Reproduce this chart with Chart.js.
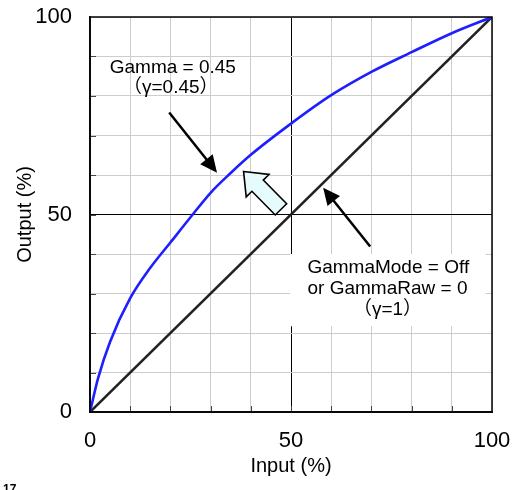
<!DOCTYPE html>
<html>
<head>
<meta charset="utf-8">
<script src="https://cdn.jsdelivr.net/npm/chart.js@4"></script>
<style>
  html, body { margin: 0; padding: 0; background: #fff; }
  #wrap { width: 525px; height: 490px; position: relative; }
</style>
</head>
<body>
<div id="wrap"><canvas id="gammaChart"></canvas></div>
<script>
// values
const inputPct = [0, 2, 5, 10, 15, 20, 25, 30, 35, 40, 50, 60, 70, 80, 90, 100];
const gammaOut = [0, 8.5, 17.8, 28.8, 36.5, 42.9, 49.3, 55.5, 60.5, 65.1, 73, 80.2, 86.1, 91.1, 95.9, 100];
const linearIn = [0, 100];
const linearOut = [0, 100];
const tickLabels = [0, 50, 100];

const FONT = "'Liberation Sans', 'Noto Sans CJK JP', sans-serif";

// annotation text
const gammaLabel = ["Gamma = 0.45", "（γ=0.45）"];
const offLabel = ["GammaMode = Off", "or GammaRaw = 0", "（γ=1）"];

function arrow(ctx, x1, y1, x2, y2) {
  const a = Math.atan2(y2 - y1, x2 - x1);
  const len = 17, hw = 8;
  ctx.beginPath();
  ctx.moveTo(x1, y1);
  ctx.lineTo(x2 - Math.cos(a) * len * 0.8, y2 - Math.sin(a) * len * 0.8);
  ctx.stroke();
  ctx.beginPath();
  ctx.moveTo(x2, y2);
  ctx.lineTo(x2 - Math.cos(a) * len - Math.sin(a) * hw, y2 - Math.sin(a) * len + Math.cos(a) * hw);
  ctx.lineTo(x2 - Math.cos(a) * len + Math.sin(a) * hw, y2 - Math.sin(a) * len - Math.cos(a) * hw);
  ctx.closePath();
  ctx.fill();
}

function bigArrow(ctx, tx, ty, ex, ey) {
  // fat hollow arrow from tail (ex,ey) to tip (tx,ty)
  const a = Math.atan2(ty - ey, tx - ex);
  const L = Math.hypot(tx - ex, ty - ey);
  const head = 20, hw = 16, sw = 8;
  const pts = [[L, 0], [L - head, hw], [L - head, sw], [0, sw], [0, -sw], [L - head, -sw], [L - head, -hw]];
  ctx.beginPath();
  pts.forEach(function (p, i) {
    const px = ex + p[0] * Math.cos(a) - p[1] * Math.sin(a);
    const py = ey + p[0] * Math.sin(a) + p[1] * Math.cos(a);
    if (i === 0) ctx.moveTo(px, py); else ctx.lineTo(px, py);
  });
  ctx.closePath();
  ctx.fillStyle = "#e6fbfb";
  ctx.fill();
  ctx.lineWidth = 1.6;
  ctx.strokeStyle = "#000";
  ctx.stroke();
}

const notes = {
  id: "notes",
  beforeDatasetsDraw(chart) {
    const { ctx, scales: { x, y } } = chart;
    ctx.save();
    ctx.fillStyle = "#fff";
    const l = x.getPixelForValue(49.8), r = x.getPixelForValue(98.4);
    const t = y.getPixelForValue(40), b = y.getPixelForValue(21.7);
    ctx.fillRect(l, t, r - l, b - t);
    ctx.restore();
  },
  afterDraw(chart) {
    const { ctx, chartArea: ca, scales: { x, y } } = chart;
    ctx.save();
    // inner tick marks
    ctx.strokeStyle = "#444";
    ctx.lineWidth = 1;
    for (let v = 10; v < 100; v += 10) {
      const px = Math.round(x.getPixelForValue(v)) + 0.5;
      ctx.beginPath(); ctx.moveTo(px, ca.bottom); ctx.lineTo(px, ca.bottom - 6); ctx.stroke();
      const py = Math.round(y.getPixelForValue(v)) + 0.5;
      ctx.beginPath(); ctx.moveTo(ca.left, py); ctx.lineTo(ca.left + 6, py); ctx.stroke();
    }
    // frame
    ctx.strokeStyle = "#000";
    ctx.lineWidth = 1.5;
    ctx.strokeRect(ca.left, ca.top, ca.right - ca.left, ca.bottom - ca.top);

    // labels
    ctx.fillStyle = "#000";
    ctx.textAlign = "center";
    ctx.textBaseline = "middle";
    ctx.font = "19px " + FONT;
    ctx.fillText(gammaLabel[0], x.getPixelForValue(20.6), y.getPixelForValue(87.1));
    ctx.fillText(gammaLabel[1], x.getPixelForValue(20.1), y.getPixelForValue(82));
    ctx.fillText(offLabel[0], x.getPixelForValue(74.2), y.getPixelForValue(36.5));
    ctx.fillText(offLabel[1], x.getPixelForValue(74), y.getPixelForValue(31.2));
    ctx.fillText(offLabel[2], x.getPixelForValue(74), y.getPixelForValue(25.9));

    // arrows
    ctx.strokeStyle = "#000";
    ctx.lineWidth = 2.5;
    arrow(ctx, x.getPixelForValue(19.7), y.getPixelForValue(75.8), x.getPixelForValue(31.6), y.getPixelForValue(60.6));
    arrow(ctx, x.getPixelForValue(69.7), y.getPixelForValue(41.9), x.getPixelForValue(58), y.getPixelForValue(56.8));
    bigArrow(ctx, x.getPixelForValue(38.2), y.getPixelForValue(60.9), x.getPixelForValue(47.5), y.getPixelForValue(51.3));

    // stray fragment at the bottom edge
    ctx.fillStyle = "#000";
    ctx.textAlign = "left";
    ctx.textBaseline = "top";
    ctx.font = "bold 12px " + FONT;
    ctx.fillText("17", 3, 484);
    ctx.restore();
  }
};

const gridColor = function (c) {
  return c.tick && c.tick.value === 50 ? "#000" : "#cdcdcd";
};
const tickCb = function (v) {
  return tickLabels.includes(v) ? v : "";
};

const config = {
  type: "line",
  data: {
    datasets: [
      {
        label: "Gamma 0.45",
        data: inputPct.map(function (v, i) { return { x: v, y: gammaOut[i] }; }),
        borderColor: "rgb(30,30,255)",
        borderWidth: 2.6,
        pointRadius: 0,
        cubicInterpolationMode: "monotone",
      },
      {
        label: "Gamma 1",
        data: linearIn.map(function (v, i) { return { x: v, y: linearOut[i] }; }),
        borderColor: "#222",
        borderWidth: 2.6,
        pointRadius: 0,
      },
    ],
  },
  options: {
    responsive: true,
    maintainAspectRatio: false,
    animation: false,
    layout: { padding: { top: 17, right: 33, left: 0, bottom: 0 } },
    plugins: { legend: { display: false }, tooltip: { enabled: false } },
    scales: {
      x: {
        type: "linear",
        min: 0,
        max: 100,
        afterFit: function (s) { s.height = 78; s.paddingLeft = 0; s.paddingRight = 0; },
        grid: { color: gridColor, lineWidth: 1, drawTicks: false },
        border: { color: "#222", width: 2 },
        ticks: { stepSize: 10, autoSkip: false, maxRotation: 0, padding: 16, color: "#000",
                 font: { family: FONT, size: 22 }, callback: tickCb },
        title: { display: true, text: "Input (%)", color: "#000", padding: { bottom: 12 },
                 font: { family: FONT, size: 20 } },
      },
      y: {
        min: 0,
        max: 100,
        afterFit: function (s) { s.width = 90; s.paddingTop = 0; s.paddingBottom = 0; },
        grid: { color: gridColor, lineWidth: 1, drawTicks: false },
        border: { color: "#222", width: 2 },
        ticks: { stepSize: 10, autoSkip: false, padding: 18, color: "#000",
                 font: { family: FONT, size: 22 }, callback: tickCb },
        title: { display: true, text: "Output (%)", color: "#000", padding: { top: 13 },
                 font: { family: FONT, size: 20 } },
      },
    },
  },
  plugins: [notes],
};

const GammaChart = new Chart(document.getElementById("gammaChart"), config);
</script>
</body>
</html>
